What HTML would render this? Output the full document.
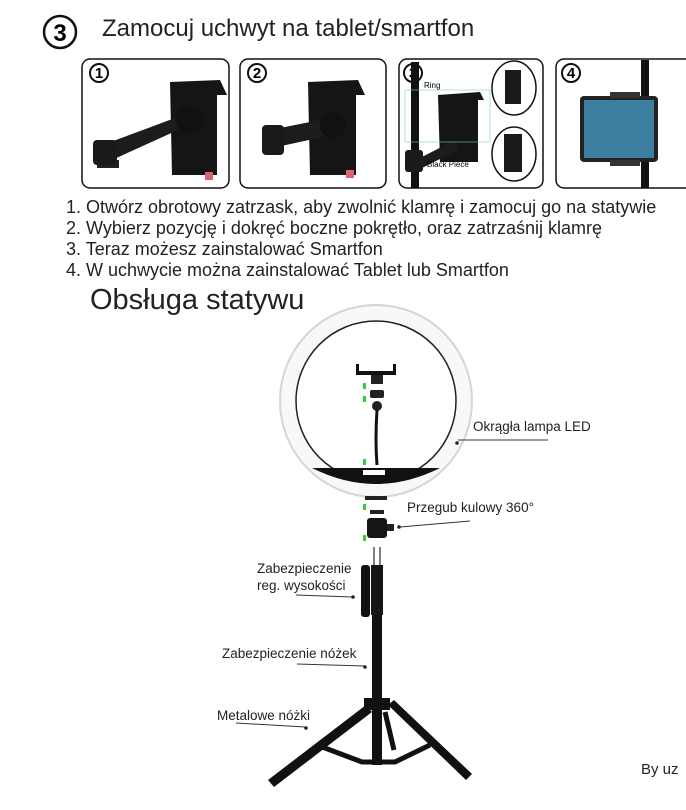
<!DOCTYPE html>
<html><head><meta charset="utf-8"><style>
body{margin:0;width:686px;height:810px;background:#fff;overflow:hidden;font-family:"Liberation Sans",sans-serif;position:relative}
.t{position:absolute;color:#222;white-space:nowrap}
</style></head><body>
<svg width="686" height="810" style="position:absolute;left:0;top:0">
<circle cx="60" cy="32" r="16" fill="none" stroke="#111" stroke-width="2.5"/>
<text x="60" y="41" font-size="24" font-weight="bold" text-anchor="middle" font-family="Liberation Sans">3</text>
<g fill="none" stroke="#111" stroke-width="1.5">
<rect x="82" y="59" width="147" height="129" rx="8"/>
<rect x="240" y="59" width="146" height="129" rx="8"/>
<rect x="399" y="59" width="144" height="129" rx="8"/>
<rect x="556" y="59" width="140" height="129" rx="8"/>
</g>
<g font-family="Liberation Sans" font-weight="bold" font-size="15" text-anchor="middle">
<circle cx="99" cy="73" r="9" fill="none" stroke="#111" stroke-width="2"/><text x="99" y="78">1</text>
<circle cx="257" cy="73" r="9" fill="none" stroke="#111" stroke-width="2"/><text x="257" y="78">2</text>
<circle cx="413" cy="73" r="9" fill="none" stroke="#111" stroke-width="2"/><text x="413" y="78">3</text>
<circle cx="571" cy="73" r="9" fill="none" stroke="#111" stroke-width="2"/><text x="571" y="78">4</text>
</g>
<path d="M170 82 L220 80 L227 95 L217 95 L217 175 L172 175 Z" fill="#151515"/>
<rect x="205" y="172" width="8" height="8" fill="#d9636f"/>
<rect x="97" y="160" width="22" height="8" fill="#222"/>
<path d="M108 143 L175 118 L178 130 L112 160 Z" fill="#1c1c1c"/>
<rect x="93" y="140" width="24" height="25" rx="4" fill="#1a1a1a"/>
<circle cx="190" cy="120" r="14" fill="#111"/>
<path d="M308 82 L358 80 L365 95 L356 95 L356 175 L310 175 Z" fill="#151515"/>
<rect x="346" y="170" width="8" height="8" fill="#d9636f"/>
<path d="M270 130 L330 118 L332 135 L272 148 Z" fill="#1c1c1c"/>
<rect x="262" y="125" width="22" height="30" rx="4" fill="#1a1a1a"/>
<circle cx="333" cy="125" r="13" fill="#111"/>
<rect x="411" y="62" width="8" height="126" fill="#111"/>
<path d="M438 95 L480 92 L484 100 L478 100 L478 162 L440 162 Z" fill="#151515"/>
<rect x="405" y="150" width="18" height="22" rx="3" fill="#1a1a1a"/>
<path d="M420 158 L455 140 L458 150 L422 168 Z" fill="#1c1c1c"/>
<rect x="405" y="90" width="85" height="52" fill="none" stroke="#7cc" stroke-width="0.6"/>
<ellipse cx="514" cy="88" rx="22" ry="27" fill="#fff" stroke="#111" stroke-width="1.5"/>
<rect x="505" y="70" width="16" height="34" fill="#1a1a1a"/>
<ellipse cx="514" cy="154" rx="22" ry="27" fill="#fff" stroke="#111" stroke-width="1.5"/>
<rect x="504" y="134" width="18" height="38" fill="#1a1a1a"/>
<text x="424" y="88" font-size="8" font-family="Liberation Sans">Ring</text>
<text x="427" y="167" font-size="8" font-family="Liberation Sans">Black Piece</text>
<rect x="641" y="60" width="8" height="128" fill="#111"/>
<rect x="580" y="96" width="78" height="66" rx="4" fill="#222"/>
<rect x="584" y="100" width="70" height="58" fill="#3c7fa0"/>
<rect x="610" y="92" width="30" height="6" fill="#333"/><rect x="610" y="160" width="30" height="6" fill="#333"/>
<circle cx="376" cy="401" r="96" fill="#f8f8f8" stroke="#d5d5d5" stroke-width="2"/>
<circle cx="376" cy="401" r="80" fill="#fff" stroke="#222" stroke-width="1.5"/>
<path d="M312 468 Q376 500 440 468 Z" fill="#111"/>
<rect x="363" y="470" width="22" height="5" fill="#fff"/>
<rect x="365" y="496" width="22" height="4" fill="#222"/>
<path d="M356 364 L356 375 L396 375 L396 364 L393 364 L393 371 L359 371 L359 364 Z" fill="#111"/>
<rect x="371" y="375" width="12" height="9" fill="#222"/>
<rect x="370" y="390" width="14" height="8" rx="2" fill="#222"/>
<circle cx="377" cy="406" r="5" fill="#222"/>
<path d="M377 410 Q375 440 377 465" stroke="#111" stroke-width="3" fill="none"/>
<g fill="#3c3"><rect x="363" y="383" width="3" height="6"/><rect x="363" y="396" width="3" height="6"/><rect x="363" y="459" width="3" height="6"/><rect x="363" y="504" width="3" height="6"/><rect x="363" y="535" width="3" height="6"/></g>
<rect x="370" y="510" width="14" height="4" fill="#222"/>
<rect x="367" y="518" width="20" height="20" rx="3" fill="#151515"/>
<rect x="387" y="524" width="7" height="7" fill="#222"/>
<path d="M374 547 L374 565 M380 547 L380 565" stroke="#555" stroke-width="1.5"/>
<rect x="371" y="565" width="12" height="50" fill="#151515"/>
<rect x="361" y="565" width="9" height="52" rx="3" fill="#111"/>
<rect x="372" y="615" width="10" height="150" fill="#111"/>
<rect x="364" y="698" width="26" height="12" fill="#111"/>
<path d="M366 705 L268 780 L274 787 L372 712 Z" fill="#111"/>
<path d="M388 705 L466 780 L472 774 L394 700 Z" fill="#111"/>
<path d="M317 745 L362 762 L395 762 L430 745" stroke="#111" stroke-width="5" fill="none"/>
<path d="M385 712 L394 750" stroke="#111" stroke-width="5"/>
<g stroke="#333" stroke-width="1" fill="none">
<path d="M458 440 L548 440"/>
<path d="M400 527 L470 521"/>
<path d="M296 595 L352 597"/>
<path d="M297 664 L364 666"/>
<path d="M236 723 L305 727"/>
</g>
<g fill="#222"><circle cx="457" cy="443" r="1.8"/><circle cx="399" cy="527" r="1.8"/><circle cx="353" cy="597" r="1.8"/><circle cx="365" cy="667" r="1.8"/><circle cx="306" cy="728" r="1.8"/></g>
</svg>
<div class="t" style="left:102px;top:15px;font-size:24px">Zamocuj uchwyt na tablet/smartfon</div>
<div class="t" style="left:66px;top:197px;font-size:18px;line-height:21px">1. Otwórz obrotowy zatrzask, aby zwolnić klamrę i zamocuj go na statywie<br>2. Wybierz pozycję i dokręć boczne pokrętło, oraz zatrzaśnij klamrę<br>3. Teraz możesz zainstalować Smartfon<br>4. W uchwycie można zainstalować Tablet lub Smartfon</div>
<div class="t" style="left:90px;top:284px;font-size:29px">Obsługa statywu</div>
<div class="t" style="left:473px;top:419px;font-size:13.5px">Okrągła lampa LED</div>
<div class="t" style="left:407px;top:500px;font-size:13.5px">Przegub kulowy 360°</div>
<div class="t" style="left:257px;top:560px;font-size:13.5px;line-height:17px">Zabezpieczenie<br>reg. wysokości</div>
<div class="t" style="left:222px;top:646px;font-size:13.5px">Zabezpieczenie nóżek</div>
<div class="t" style="left:217px;top:708px;font-size:13.5px">Metalowe nóżki</div>
<div class="t" style="left:641px;top:761px;font-size:15px">By uz</div>
</body></html>
